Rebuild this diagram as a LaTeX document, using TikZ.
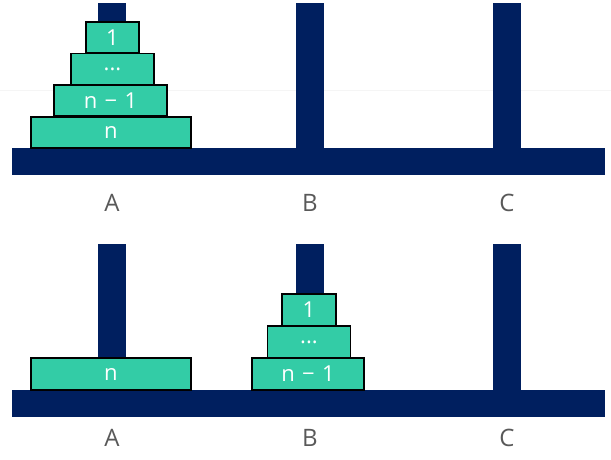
\documentclass[tikz,border=0pt]{standalone}
\usepackage{fontspec}
\setmainfont{Open Sans}
\definecolor{navy}{RGB}{0,31,95}
\definecolor{diskgreen}{RGB}{51,204,166}
\definecolor{labelgray}{RGB}{89,89,89}
\begin{document}
\begin{tikzpicture}[x=1pt,y=-1pt,
  bar/.style={fill=navy,draw=none},
  disk/.style={draw=black,line width=1.6pt,fill=diskgreen,text=white,inner sep=0pt,font=\fontsize{22}{24}\selectfont},
  peglabel/.style={text=labelgray,font=\fontsize{24}{26}\selectfont,inner sep=0pt}]
\useasboundingbox (0,0) rectangle (611,459);
\fill[white] (0,0) rectangle (611,459);
\draw[line width=1pt,color=black!4] (0,90) -- (611,90);
% ---------- top ----------
\fill[bar] (98,3) rectangle (126,148);
\fill[bar] (296,3) rectangle (324,148);
\fill[bar] (493,3) rectangle (521,148);
\fill[bar] (12,148) rectangle (605,175);
\node[disk,minimum width=53pt,minimum height=31pt] (t1) at (112.5,37.5) {1};
\node[disk,minimum width=83pt,minimum height=31pt] (t2) at (112.5,69) {...};
\node[disk,minimum width=113pt,minimum height=31pt] (t3) at (110.5,100.5) {n\,\,−\,\,1};
\node[disk,minimum width=160pt,minimum height=31pt] (t4) at (111,132.5) {n};
\node[peglabel] (tA) at (112,203) {A};
\node[peglabel] (tB) at (310,203) {B};
\node[peglabel] (tC) at (507,203) {C};
% ---------- bottom ----------
\fill[bar] (98,244) rectangle (126,390);
\fill[bar] (296,244) rectangle (324,390);
\fill[bar] (493,244) rectangle (521,390);
\fill[bar] (12,390) rectangle (605,417);
\node[disk,minimum width=160pt,minimum height=32pt] (bn) at (111,374) {n};
\node[disk,minimum width=54pt,minimum height=32pt] (b1) at (309,310) {1};
\node[disk,minimum width=83pt,minimum height=32pt] (b2) at (309,342) {...};
\node[disk,minimum width=112pt,minimum height=32pt] (b3) at (308,374) {n\,\,−\,\,1};
\node[peglabel] (bA) at (112,438) {A};
\node[peglabel] (bB) at (310,438) {B};
\node[peglabel] (bC) at (507,438) {C};
\end{tikzpicture}
\end{document}
